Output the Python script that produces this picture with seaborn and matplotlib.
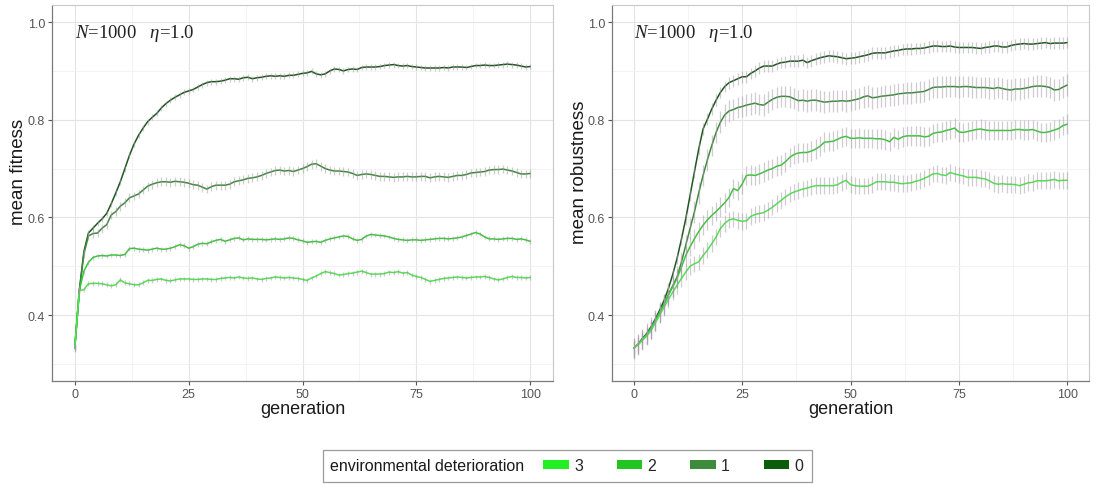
#--> Importing required libraries
import numpy as np
import pandas as pd
import matplotlib
matplotlib.use("Agg")
import matplotlib.pyplot as plt
import seaborn as sns
from matplotlib.patches import Patch, Rectangle
from matplotlib.ticker import FixedLocator

##--> Data <--##
generations = list(range(101))
levels = ["3", "2", "1", "0"]

#-> mean fitness, one value per generation
fit_0 = [0.333, 0.450, 0.530, 0.568, 0.578, 0.588, 0.597, 0.608, 0.628, 0.650, 0.673,
         0.700, 0.727, 0.750, 0.768, 0.783, 0.796, 0.805, 0.813, 0.824, 0.833,
         0.840, 0.846, 0.851, 0.856, 0.859, 0.862, 0.867, 0.872, 0.876, 0.878,
         0.878, 0.879, 0.881, 0.884, 0.884, 0.883, 0.886, 0.887, 0.884, 0.886,
         0.887, 0.889, 0.890, 0.889, 0.890, 0.889, 0.891, 0.891, 0.893, 0.895,
         0.896, 0.899, 0.894, 0.892, 0.894, 0.900, 0.904, 0.903, 0.900, 0.903,
         0.904, 0.903, 0.907, 0.908, 0.908, 0.908, 0.909, 0.911, 0.912, 0.913,
         0.911, 0.910, 0.911, 0.909, 0.908, 0.907, 0.906, 0.906, 0.906, 0.906,
         0.907, 0.906, 0.908, 0.908, 0.908, 0.907, 0.909, 0.911, 0.911, 0.912,
         0.911, 0.911, 0.912, 0.913, 0.914, 0.913, 0.912, 0.910, 0.908, 0.909]
fit_1 = [0.333, 0.450, 0.525, 0.562, 0.567, 0.568, 0.578, 0.585, 0.605, 0.612, 0.623,
         0.630, 0.640, 0.644, 0.648, 0.656, 0.664, 0.668, 0.671, 0.673, 0.673,
         0.672, 0.674, 0.673, 0.672, 0.670, 0.667, 0.666, 0.662, 0.658, 0.663,
         0.666, 0.666, 0.666, 0.668, 0.673, 0.675, 0.677, 0.680, 0.681, 0.683,
         0.686, 0.690, 0.693, 0.696, 0.697, 0.695, 0.696, 0.694, 0.697, 0.700,
         0.704, 0.709, 0.710, 0.705, 0.700, 0.697, 0.695, 0.695, 0.694, 0.693,
         0.690, 0.686, 0.688, 0.689, 0.688, 0.686, 0.684, 0.684, 0.683, 0.682,
         0.683, 0.683, 0.684, 0.683, 0.683, 0.684, 0.684, 0.681, 0.683, 0.684,
         0.683, 0.682, 0.684, 0.686, 0.686, 0.688, 0.691, 0.692, 0.693, 0.694,
         0.697, 0.698, 0.698, 0.699, 0.697, 0.695, 0.692, 0.689, 0.689, 0.690]
fit_2 = [0.333, 0.450, 0.490, 0.508, 0.518, 0.521, 0.522, 0.521, 0.523, 0.523, 0.522,
         0.524, 0.536, 0.537, 0.535, 0.534, 0.533, 0.535, 0.537, 0.535, 0.535,
         0.537, 0.540, 0.544, 0.542, 0.537, 0.540, 0.545, 0.547, 0.546, 0.550,
         0.553, 0.555, 0.551, 0.554, 0.557, 0.558, 0.554, 0.556, 0.555, 0.555,
         0.555, 0.554, 0.555, 0.556, 0.555, 0.556, 0.558, 0.557, 0.554, 0.552,
         0.549, 0.550, 0.551, 0.549, 0.553, 0.556, 0.558, 0.560, 0.562, 0.561,
         0.556, 0.553, 0.555, 0.562, 0.565, 0.564, 0.563, 0.562, 0.560, 0.557,
         0.555, 0.554, 0.553, 0.554, 0.554, 0.553, 0.554, 0.555, 0.556, 0.557,
         0.557, 0.556, 0.557, 0.558, 0.560, 0.563, 0.566, 0.569, 0.566, 0.560,
         0.556, 0.556, 0.555, 0.556, 0.557, 0.557, 0.555, 0.556, 0.554, 0.551]
fit_3 = [0.333, 0.450, 0.452, 0.464, 0.465, 0.465, 0.464, 0.462, 0.460, 0.462, 0.472,
         0.466, 0.464, 0.462, 0.462, 0.466, 0.471, 0.471, 0.473, 0.474, 0.471,
         0.470, 0.472, 0.474, 0.474, 0.474, 0.473, 0.473, 0.474, 0.474, 0.473,
         0.473, 0.475, 0.476, 0.477, 0.476, 0.478, 0.476, 0.475, 0.476, 0.474,
         0.473, 0.475, 0.476, 0.478, 0.477, 0.476, 0.477, 0.476, 0.475, 0.473,
         0.471, 0.476, 0.480, 0.485, 0.489, 0.487, 0.485, 0.482, 0.483, 0.485,
         0.486, 0.488, 0.490, 0.487, 0.484, 0.484, 0.484, 0.485, 0.488, 0.487,
         0.489, 0.486, 0.487, 0.482, 0.479, 0.477, 0.473, 0.469, 0.471, 0.473,
         0.475, 0.476, 0.477, 0.478, 0.477, 0.476, 0.477, 0.478, 0.478, 0.479,
         0.477, 0.474, 0.472, 0.474, 0.477, 0.479, 0.477, 0.477, 0.476, 0.477]

#-> mean robustness, one value per generation
rob_0 = [0.332, 0.340, 0.352, 0.362, 0.376, 0.392, 0.410, 0.430, 0.454, 0.483, 0.516,
         0.555, 0.597, 0.645, 0.693, 0.740, 0.781, 0.801, 0.822, 0.840, 0.856,
         0.868, 0.876, 0.880, 0.884, 0.888, 0.888, 0.895, 0.900, 0.906, 0.910,
         0.910, 0.910, 0.914, 0.917, 0.918, 0.920, 0.920, 0.920, 0.922, 0.917,
         0.921, 0.924, 0.927, 0.929, 0.931, 0.930, 0.929, 0.927, 0.925, 0.926,
         0.927, 0.929, 0.931, 0.933, 0.936, 0.937, 0.937, 0.937, 0.939, 0.941,
         0.942, 0.944, 0.945, 0.945, 0.946, 0.946, 0.947, 0.949, 0.951, 0.951,
         0.950, 0.950, 0.951, 0.949, 0.948, 0.948, 0.948, 0.948, 0.947, 0.946,
         0.948, 0.949, 0.951, 0.951, 0.949, 0.949, 0.952, 0.954, 0.955, 0.956,
         0.955, 0.955, 0.956, 0.957, 0.958, 0.956, 0.957, 0.957, 0.957, 0.958]
rob_1 = [0.332, 0.340, 0.350, 0.361, 0.374, 0.389, 0.405, 0.422, 0.442, 0.460, 0.478,
         0.508, 0.543, 0.577, 0.611, 0.650, 0.686, 0.718, 0.747, 0.774, 0.795,
         0.810, 0.818, 0.821, 0.825, 0.827, 0.830, 0.832, 0.834, 0.831, 0.830,
         0.836, 0.842, 0.846, 0.848, 0.848, 0.847, 0.843, 0.839, 0.840, 0.838,
         0.840, 0.840, 0.838, 0.836, 0.837, 0.838, 0.838, 0.839, 0.838, 0.839,
         0.841, 0.843, 0.847, 0.849, 0.845, 0.846, 0.848, 0.849, 0.850, 0.851,
         0.853, 0.854, 0.855, 0.855, 0.856, 0.857, 0.858, 0.862, 0.866, 0.867,
         0.867, 0.868, 0.868, 0.868, 0.867, 0.868, 0.868, 0.867, 0.866, 0.866,
         0.866, 0.865, 0.864, 0.866, 0.864, 0.862, 0.861, 0.863, 0.863, 0.864,
         0.866, 0.868, 0.869, 0.869, 0.868, 0.866, 0.861, 0.862, 0.867, 0.871]
rob_2 = [0.332, 0.340, 0.350, 0.360, 0.372, 0.388, 0.405, 0.422, 0.441, 0.458, 0.475,
         0.498, 0.522, 0.540, 0.556, 0.571, 0.584, 0.595, 0.604, 0.612, 0.621,
         0.630, 0.641, 0.659, 0.655, 0.668, 0.686, 0.687, 0.686, 0.689, 0.693,
         0.697, 0.700, 0.705, 0.707, 0.714, 0.723, 0.729, 0.732, 0.733, 0.733,
         0.736, 0.740, 0.746, 0.754, 0.755, 0.756, 0.760, 0.764, 0.766, 0.762,
         0.762, 0.763, 0.762, 0.762, 0.762, 0.761, 0.761, 0.759, 0.755, 0.764,
         0.760, 0.765, 0.767, 0.767, 0.767, 0.767, 0.765, 0.766, 0.772, 0.774,
         0.775, 0.778, 0.780, 0.783, 0.775, 0.774, 0.776, 0.778, 0.780, 0.781,
         0.779, 0.778, 0.778, 0.778, 0.778, 0.778, 0.778, 0.780, 0.780, 0.779,
         0.779, 0.780, 0.777, 0.774, 0.774, 0.776, 0.779, 0.782, 0.788, 0.791]
rob_3 = [0.332, 0.339, 0.348, 0.357, 0.368, 0.384, 0.400, 0.416, 0.432, 0.447, 0.461,
         0.475, 0.488, 0.500, 0.505, 0.509, 0.522, 0.533, 0.546, 0.560, 0.577,
         0.588, 0.595, 0.597, 0.594, 0.592, 0.593, 0.602, 0.606, 0.608, 0.610,
         0.615, 0.621, 0.628, 0.635, 0.642, 0.648, 0.652, 0.655, 0.658, 0.660,
         0.663, 0.665, 0.665, 0.665, 0.665, 0.665, 0.667, 0.672, 0.676, 0.667,
         0.665, 0.664, 0.664, 0.664, 0.668, 0.673, 0.673, 0.673, 0.672, 0.672,
         0.670, 0.669, 0.670, 0.671, 0.674, 0.676, 0.680, 0.684, 0.689, 0.690,
         0.687, 0.686, 0.692, 0.689, 0.687, 0.685, 0.682, 0.682, 0.682, 0.680,
         0.679, 0.675, 0.670, 0.668, 0.669, 0.668, 0.668, 0.667, 0.665, 0.668,
         0.671, 0.672, 0.675, 0.675, 0.675, 0.676, 0.678, 0.675, 0.676, 0.676]

#-> half-width of the error bars per level
fit_err = {"3": 0.005, "2": 0.005, "1": 0.009, "0": 0.006}
rob_err = {"3": 0.017, "2": 0.020, "1": 0.022, "0": 0.012}

fitness = {"3": fit_3, "2": fit_2, "1": fit_1, "0": fit_0}
robustness = {"3": rob_3, "2": rob_2, "1": rob_1, "0": rob_0}

line_colors = {"3": "#4ee44e", "2": "#38c838", "1": "#3d8a3d", "0": "#1f561f"}
key_colors = {"3": "#22f022", "2": "#22c422", "1": "#3d8b3d", "0": "#0b5c0b"}

##--> Style <--##
sns.set_theme(style="white")
plt.rcParams["font.family"] = ["Liberation Sans", "DejaVu Sans"]
plt.rcParams["mathtext.fontset"] = "custom"
plt.rcParams["mathtext.rm"] = "Liberation Serif"
plt.rcParams["mathtext.it"] = "Liberation Serif:italic"


def long_frame(series):
    parts = []
    for lev in ["0", "1", "2", "3"]:
        parts.append(pd.DataFrame({"generation": generations,
                                   "value": series[lev],
                                   "deterioration": lev}))
    return pd.concat(parts, ignore_index=True)


fig = plt.figure(figsize=(11.03, 4.85), dpi=100)
ax_f = fig.add_axes([52 / 1103, 1 - 382 / 485, 501 / 1103, 376 / 485])
ax_r = fig.add_axes([612 / 1103, 1 - 382 / 485, 477 / 1103, 376 / 485])

panels = [(ax_f, fitness, fit_err, "mean fitness"),
          (ax_r, robustness, rob_err, "mean robustness")]

for ax, series, errs, ylab in panels:
    df = long_frame(series)
    sns.lineplot(data=df, x="generation", y="value", hue="deterioration",
                 hue_order=["0", "1", "2", "3"], palette=line_colors,
                 errorbar=None, legend=False, linewidth=1.1, ax=ax, zorder=2)
    for lev in ["0", "1", "2", "3"]:
        v = np.array(series[lev])
        ax.vlines(generations, v - errs[lev], v + errs[lev],
                  color="#a496a6", alpha=0.5, linewidth=0.9, zorder=3)

    ax.set_xlim(-5, 105)
    ax.set_ylim(0.265, 1.035)
    ax.set_xticks([0, 25, 50, 75, 100])
    ax.set_yticks([0.4, 0.6, 0.8, 1.0])
    ax.set_yticklabels(["0.4", "0.6", "0.8", "1.0"])
    ax.xaxis.set_minor_locator(FixedLocator([12.5, 37.5, 62.5, 87.5]))
    ax.yaxis.set_minor_locator(FixedLocator([0.3, 0.5, 0.7, 0.9]))
    ax.grid(which="major", color="#e4e4e4", linewidth=0.8, zorder=0)
    ax.grid(which="minor", color="#f1f1f1", linewidth=0.6, zorder=0)
    ax.set_axisbelow(True)
    ax.tick_params(which="minor", length=0)
    ax.tick_params(which="major", length=3, width=0.8, color="#555555",
                   labelsize=9, labelcolor="#555555", pad=2,
                   bottom=True, left=True)
    for side in ["top", "right"]:
        ax.spines[side].set_color("#c8c8c8")
        ax.spines[side].set_linewidth(0.8)
    for side in ["left", "bottom"]:
        ax.spines[side].set_color("#7a7a7a")
        ax.spines[side].set_linewidth(0.9)

    ax.set_xlabel("generation", fontsize=13, color="#1a1a1a", labelpad=0)
    ax.set_ylabel(ylab, fontsize=13.5, color="#1a1a1a")
    ax.yaxis.set_label_coords(-0.050, 0.558)
    ax.text(0, 0.978, r"$N$=1000   $\eta$=1.0", fontsize=13.5,
            family="Liberation Serif", color="#222222", va="center", ha="left")

##--> Legend <--##
handles = [Patch(facecolor=key_colors[lev], edgecolor="none") for lev in levels]
fig.legend(handles, levels, ncol=4, loc="center left",
           bbox_to_anchor=(543 / 1103, 1 - 467 / 485), frameon=False,
           fontsize=11.5, handlelength=1.6, handleheight=0.5,
           handletextpad=0.35, columnspacing=2.1, borderpad=0, borderaxespad=0)
fig.text(330 / 1103, 1 - 467 / 485, "environmental deterioration",
         fontsize=11.5, color="#1a1a1a", va="center", ha="left")
fig.patches.append(Rectangle((323 / 1103, 1 - 483 / 485), 489 / 1103, 32 / 485,
                             transform=fig.transFigure, fill=False,
                             edgecolor="#9a9a9a", linewidth=0.9))

plt.savefig("out.png", dpi=100)
